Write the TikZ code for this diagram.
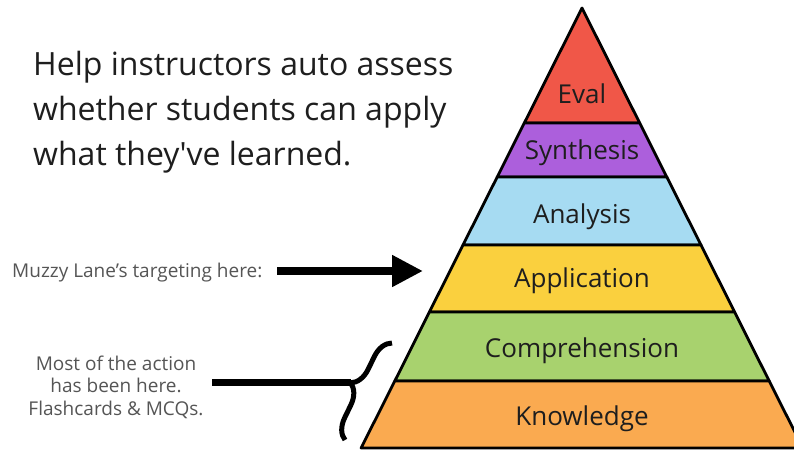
\documentclass[tikz,border=0pt]{standalone}
\usepackage{fontspec}
\setmainfont{Open Sans}
\usetikzlibrary{arrows.meta,decorations.pathreplacing}
\definecolor{cEval}{RGB}{240,87,72}
\definecolor{cSyn}{RGB}{172,95,220}
\definecolor{cAna}{RGB}{166,219,242}
\definecolor{cApp}{RGB}{250,208,62}
\definecolor{cComp}{RGB}{168,210,110}
\definecolor{cKnow}{RGB}{250,170,80}
\definecolor{cText}{RGB}{30,30,30}
\definecolor{cSide}{RGB}{85,85,85}
\tikzset{
  band/.style={draw=black, line width=2.8pt, line join=round},
  lvl/.style={anchor=base, inner sep=0pt, text=cText, font=\fontsize{26}{30}\selectfont},
  side/.style={inner sep=0pt, text=cSide, font=\fontsize{19}{22.5}\selectfont},
}
\begin{document}
\begin{tikzpicture}[x=1pt,y=1pt]
\useasboundingbox (0,0) rectangle (794,451);
\clip (0,0) rectangle (794,451);
% pyramid bands
\fill[white] (0,0) rectangle (794,451);
\draw[band, fill=cEval] (582,443) -- (639.7,328) -- (524.3,328) -- cycle;
\draw[band, fill=cSyn] (524.3,328) -- (639.7,328) -- (666.8,274) -- (497.2,274) -- cycle;
\draw[band, fill=cAna] (497.2,274) -- (666.8,274) -- (701,206) -- (463,206) -- cycle;
\draw[band, fill=cApp] (463,206) -- (701,206) -- (734.6,139) -- (429.4,139) -- cycle;
\draw[band, fill=cComp] (429.4,139) -- (734.6,139) -- (769.2,70) -- (394.8,70) -- cycle;
\draw[band, fill=cKnow] (394.8,70) -- (769.2,70) -- (802.9,3) -- (361.1,3) -- cycle;
% level labels
\node[lvl] (eval) at (582,348) {Eval};
\node[lvl] (syn) at (582,292) {Synthesis};
\node[lvl] (ana) at (582,228) {Analysis};
\node[lvl] (app) at (582,164) {Application};
\node[lvl] (comp) at (582,94) {Comprehension};
\node[lvl] (know) at (582,26) {Knowledge};
% title (anchor = baseline of last line)
\node[anchor=base west, inner sep=0pt, align=left, text=cText,
      font=\fontsize{32}{45}\selectfont] (title) at (33,286)
  {Help instructors auto assess\\whether students can apply\\what they\textquotesingle ve learned.};
% targeting arrow
\node[side, anchor=base west] (muzzy) at (12,174) {Muzzy Lane’s targeting here:};
\coordinate (arrstart) at (277,180);
\coordinate (arrtip) at (423,180);
\draw[line width=8pt, -{Triangle[length=31pt,width=30pt]}] (arrstart) -- (arrtip);
% action brace
\node[side, anchor=base, align=center] (action) at (116,36)
  {Most of the action\\has been here.\\Flashcards \& MCQs.};
\coordinate (braceb) at (345,11);
\coordinate (bracet) at (392,108);
\coordinate (bracetip) at (351,69);
\coordinate (linestart) at (212,69);
\draw[line width=5pt, decorate, decoration={brace, amplitude=20pt}] (braceb) -- (bracet);
\draw[line width=7pt] (linestart) -- (bracetip);
\end{tikzpicture}
\end{document}
